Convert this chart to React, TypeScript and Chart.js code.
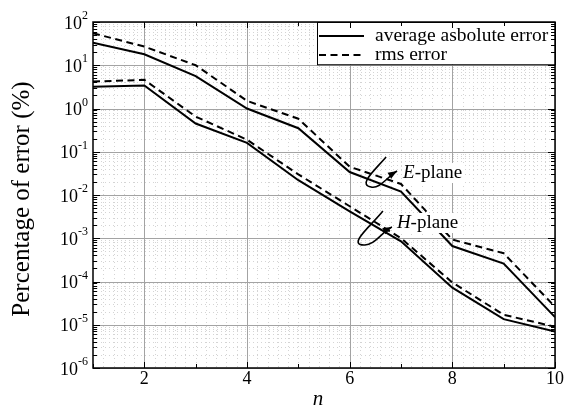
import React, { useEffect, useRef } from 'react';
import { Chart, registerables } from 'chart.js';

Chart.register(...registerables);

// ---- data ----
const nValues = [1, 2, 3, 4, 5, 6, 7, 8, 9, 10];
const eAvg = [33, 18, 5.6, 1.0, 0.35, 0.034, 0.012, 6.6e-4, 2.6e-4, 1.5e-5];
const eRms = [55, 27, 10, 1.5, 0.58, 0.045, 0.018, 9.3e-4, 4.5e-4, 2.6e-5];
const hAvg = [3.2, 3.4, 0.45, 0.16, 0.022, 0.0042, 8.5e-4, 7.2e-5, 1.35e-5, 7e-6];
const hRms = [4.2, 4.6, 0.65, 0.19, 0.03, 0.0055, 1.0e-3, 9.5e-5, 1.7e-5, 9e-6];

const xTickValues = [2, 4, 6, 8, 10];
const xTickLabels = ['2', '4', '6', '8', '10'];
const yDecadeExponents = [-6, -5, -4, -3, -2, -1, 0, 1, 2];
const legendLabels = ['average asbolute error', 'rms error'];
const yTitle = 'Percentage of error (%)';
const xTitle = 'n';
const annotationNames = ['E', 'H'];
const annotationSuffix = '-plane';
const annotationN = [7.04, 6.92];
const annotationExp = [-1.607, -2.763];

const FONT = '"Liberation Serif", "Times New Roman", serif';

function drawLoop(ctx: CanvasRenderingContext2D, ax: number, ay: number, p: number[]) {
  ctx.beginPath();
  ctx.moveTo(ax + p[0], ay + p[1]);
  ctx.bezierCurveTo(ax + p[2], ay + p[3], ax + p[4], ay + p[5], ax + p[6], ay + p[7]);
  ctx.bezierCurveTo(ax + p[8], ay + p[9], ax + p[10], ay + p[11], ax + p[12], ay + p[13]);
  ctx.stroke();
  const tx = ax + p[12], ty = ay + p[13];
  const dx = p[12] - p[10], dy = p[13] - p[11];
  const len = Math.hypot(dx, dy) || 1;
  const ux = dx / len, uy = dy / len;
  const L = 9, W = 3.5;
  ctx.beginPath();
  ctx.moveTo(tx, ty);
  ctx.lineTo(tx - ux * L - uy * W, ty - uy * L + ux * W);
  ctx.lineTo(tx - ux * L + uy * W, ty - uy * L - ux * W);
  ctx.closePath();
  ctx.fill();
}

const loopShapes = [
  [-17, -21, -27, -9, -46, 7, -32, 9, -23, 11, -16, -1, -6, -7],
  [-14, -17, -25, -3, -50, 17, -33, 17, -23, 18, -15, 4, -5, -1],
];

const stylePlugin = {
  id: 'matlabStyle',
  beforeDatasetsDraw(chart: any) {
    const { ctx, chartArea: a, scales } = chart;
    const x = scales.x, y = scales.y;
    ctx.save();
    // minor grid (dotted)
    ctx.strokeStyle = '#d4d4d4';
    ctx.lineWidth = 1;
    ctx.setLineDash([1, 3]);
    for (let i = 1; i < 45; i++) {
      const v = 1 + i * 0.2;
      if (Math.abs(v / 2 - Math.round(v / 2)) < 1e-6) continue;
      const px = Math.round(x.getPixelForValue(v)) + 0.5;
      ctx.beginPath();
      ctx.moveTo(px, a.top);
      ctx.lineTo(px, a.bottom);
      ctx.stroke();
    }
    for (let k = -6; k < 2; k++) {
      for (let m = 2; m <= 9; m++) {
        const py = Math.round(y.getPixelForValue(m * Math.pow(10, k))) + 0.5;
        ctx.beginPath();
        ctx.moveTo(a.left, py);
        ctx.lineTo(a.right, py);
        ctx.stroke();
      }
    }
    // major grid
    ctx.setLineDash([]);
    ctx.strokeStyle = '#a3a3a3';
    for (const v of xTickValues) {
      const px = Math.round(x.getPixelForValue(v)) + 0.5;
      ctx.beginPath();
      ctx.moveTo(px, a.top);
      ctx.lineTo(px, a.bottom);
      ctx.stroke();
    }
    for (const k of yDecadeExponents) {
      const py = Math.round(y.getPixelForValue(Math.pow(10, k))) + 0.5;
      ctx.beginPath();
      ctx.moveTo(a.left, py);
      ctx.lineTo(a.right, py);
      ctx.stroke();
    }
    ctx.restore();
  },
  afterDatasetsDraw(chart: any) {
    const { ctx, chartArea: a, scales } = chart;
    const x = scales.x, y = scales.y;
    ctx.save();

    // annotations
    ctx.textBaseline = 'alphabetic';
    ctx.textAlign = 'left';
    for (let i = 0; i < annotationNames.length; i++) {
      const ax = x.getPixelForValue(annotationN[i]);
      const ay = y.getPixelForValue(Math.pow(10, annotationExp[i]));
      ctx.font = `italic 19px ${FONT}`;
      const w1 = ctx.measureText(annotationNames[i]).width;
      ctx.font = `19px ${FONT}`;
      const w2 = ctx.measureText(annotationSuffix).width;
      ctx.fillStyle = '#fff';
      ctx.fillRect(ax - 1, ay - 15, w1 + w2 + 3, 20);
      ctx.fillStyle = '#000';
      ctx.font = `italic 19px ${FONT}`;
      ctx.fillText(annotationNames[i], ax, ay);
      ctx.font = `19px ${FONT}`;
      ctx.fillText(annotationSuffix, ax + w1, ay);
      ctx.strokeStyle = '#000';
      ctx.lineWidth = 1.6;
      drawLoop(ctx, ax, ay, loopShapes[i]);
    }

    // legend box
    const lx0 = 317, ly0 = a.top, lx1 = a.right, ly1 = y.getPixelForValue(10) - 1;
    ctx.fillStyle = '#fff';
    ctx.fillRect(lx0, ly0, lx1 - lx0, ly1 - ly0);
    ctx.strokeStyle = '#000';
    ctx.lineWidth = 1;
    ctx.strokeRect(lx0 + 0.5, ly0 + 0.5, lx1 - lx0, ly1 - ly0);
    const rowY = [ly0 + 14, ly0 + 33];
    ctx.lineWidth = 2;
    for (let i = 0; i < 2; i++) {
      ctx.setLineDash(i === 0 ? [] : [7, 4.5]);
      ctx.beginPath();
      ctx.moveTo(lx0 + 2, rowY[i]);
      ctx.lineTo(lx0 + 47, rowY[i]);
      ctx.stroke();
    }
    ctx.setLineDash([]);
    ctx.fillStyle = '#000';
    ctx.font = `19.5px ${FONT}`;
    ctx.textBaseline = 'middle';
    for (let i = 0; i < 2; i++) ctx.fillText(legendLabels[i], lx0 + 58, rowY[i]);

    // frame
    ctx.strokeStyle = '#000';
    ctx.lineWidth = 1.5;
    ctx.strokeRect(a.left, a.top, a.right - a.left, a.bottom - a.top);

    // ticks
    ctx.lineWidth = 1;
    for (let v = 1; v <= 10; v++) {
      const px = Math.round(x.getPixelForValue(v)) + 0.5;
      const len = v % 2 === 0 ? 6 : 4;
      ctx.beginPath();
      ctx.moveTo(px, a.bottom); ctx.lineTo(px, a.bottom - len);
      ctx.moveTo(px, a.top); ctx.lineTo(px, a.top + len);
      ctx.stroke();
    }
    for (let k = -6; k <= 2; k++) {
      for (let m = 1; m <= 9; m++) {
        if (k === 2 && m > 1) break;
        const py = Math.round(y.getPixelForValue(m * Math.pow(10, k))) + 0.5;
        const len = m === 1 ? 7 : 4;
        ctx.beginPath();
        ctx.moveTo(a.left, py); ctx.lineTo(a.left + len, py);
        ctx.moveTo(a.right, py); ctx.lineTo(a.right - len, py);
        ctx.stroke();
      }
    }

    // y tick labels
    ctx.fillStyle = '#000';
    for (const k of yDecadeExponents) {
      const py = y.getPixelForValue(Math.pow(10, k));
      const sup = String(k);
      ctx.font = `12px ${FONT}`;
      const sw = ctx.measureText(sup).width;
      ctx.font = `18px ${FONT}`;
      const bw = ctx.measureText('10').width;
      const right = a.left - 5;
      ctx.textAlign = 'left';
      ctx.textBaseline = 'middle';
      ctx.fillText('10', right - sw - bw, py + 2);
      ctx.font = `12px ${FONT}`;
      ctx.textBaseline = 'alphabetic';
      ctx.fillText(sup, right - sw, py - 3);
    }

    // x tick labels
    ctx.font = `18px ${FONT}`;
    ctx.textAlign = 'center';
    ctx.textBaseline = 'middle';
    for (let i = 0; i < xTickValues.length; i++) {
      ctx.fillText(xTickLabels[i], x.getPixelForValue(xTickValues[i]), a.bottom + 11);
    }
    // x title
    ctx.font = `italic 21px ${FONT}`;
    ctx.fillText(xTitle, (a.left + a.right) / 2 - 6, a.bottom + 31);
    // y title
    ctx.save();
    ctx.translate(22, (a.top + a.bottom) / 2 + 4);
    ctx.rotate(-Math.PI / 2);
    ctx.font = `25px ${FONT}`;
    ctx.fillText(yTitle, 0, 0);
    ctx.restore();

    ctx.restore();
  },
};

export default function App() {
  const ref = useRef<HTMLCanvasElement | null>(null);
  useEffect(() => {
    document.body.style.margin = '0';
    const canvas = ref.current;
    if (!canvas) return;
    const mk = (label: string, vals: number[], dashed: boolean) => ({
      label,
      data: nValues.map((n, i) => ({ x: n, y: vals[i] })),
      borderColor: '#000',
      backgroundColor: '#000',
      borderWidth: 2,
      borderDash: dashed ? [7, 4.5] : [],
      pointRadius: 0,
      tension: 0,
      fill: false,
    });
    const chart = new Chart(canvas, {
      type: 'line',
      data: {
        datasets: [
          mk(legendLabels[0], eAvg, false),
          mk(legendLabels[1], eRms, true),
          mk(legendLabels[0], hAvg, false),
          mk(legendLabels[1], hRms, true),
        ],
      },
      options: {
        responsive: false,
        animation: false,
        devicePixelRatio: 1,
        layout: { padding: { top: 22, right: 10, left: 0, bottom: 0 } },
        plugins: { legend: { display: false }, tooltip: { enabled: false }, title: { display: false } },
        scales: {
          x: {
            type: 'linear', min: 1, max: 10,
            grid: { display: false }, border: { display: false },
            ticks: { display: false },
            afterFit: (s: any) => { s.height = 47; },
          },
          y: {
            type: 'logarithmic', min: 1e-6, max: 100,
            grid: { display: false }, border: { display: false },
            ticks: { display: false },
            afterFit: (s: any) => { s.width = 93; },
          },
        },
      } as any,
      plugins: [stylePlugin as any],
    });
    return () => chart.destroy();
  }, []);
  return (
    <div style={{ width: 565, height: 415, background: '#fff' }}>
      <canvas ref={ref} width={565} height={415} style={{ display: 'block' }} />
    </div>
  );
}
